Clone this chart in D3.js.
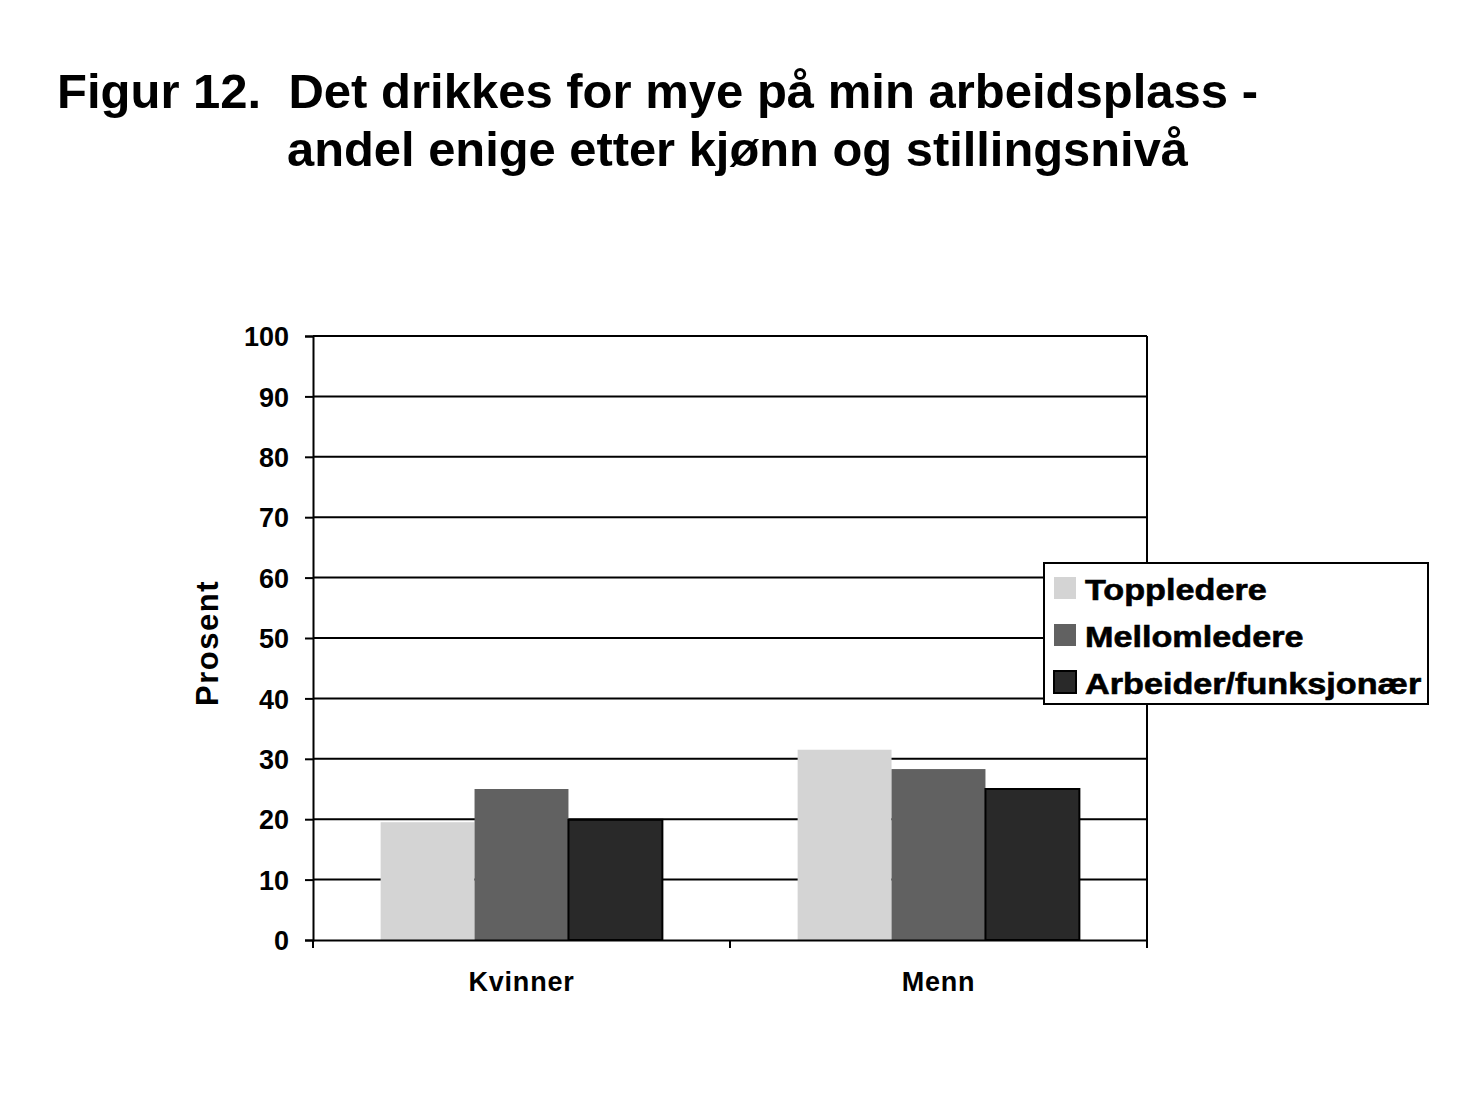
<!DOCTYPE html>
<html>
<head>
<meta charset="utf-8">
<script src="https://cdn.jsdelivr.net/npm/d3@7"></script>
<style>
    body { margin: 0; background: #fff; }
    svg { display: block; }
</style>
</head>
<body>
<svg width="1475" height="1104"></svg>
<script>
const categories = ['Kvinner', 'Menn'];
const seriesNames = ['Toppledere', 'Mellomledere', 'Arbeider/funksjonær'];
const toppledere = [19.5, 31.5];
const mellomledere = [25, 28.3];
const arbeider = [19.9, 25];
const yTicks = [0, 10, 20, 30, 40, 50, 60, 70, 80, 90, 100];
const colors = ['#d4d4d4', '#616161', '#292929'];

const values = [toppledere, mellomledere, arbeider];
const rows = categories.map((c, i) => ({
    cat: c,
    vals: seriesNames.map((s, j) => ({ key: s, value: values[j][i], idx: j }))
}));

const svg = d3.select('svg').style('font-family', 'Liberation Sans, Arial, sans-serif');

svg.append('rect').attr('width', 1475).attr('height', 1104).attr('fill', '#fff');

// title
svg.append('text')
    .attr('x', 57).attr('y', 108)
    .attr('xml:space', 'preserve')
    .style('white-space', 'pre')
    .attr('font-size', 48).attr('font-weight', 'bold')
    .attr('textLength', 1201).attr('lengthAdjust', 'spacingAndGlyphs')
    .text('Figur 12.  Det drikkes for mye på min arbeidsplass -');
svg.append('text')
    .attr('x', 287).attr('y', 166)
    .attr('font-size', 48).attr('font-weight', 'bold')
    .attr('textLength', 901).attr('lengthAdjust', 'spacingAndGlyphs')
    .text('andel enige etter kjønn og stillingsnivå');

const plotLeft = 313, plotRight = 1147, plotTop = 336, plotBottom = 940;

const x = d3.scaleBand().domain(categories).range([plotLeft, plotRight]);
const xInner = d3.scaleBand().domain(seriesNames).range([0, x.bandwidth()]).paddingOuter(0.72).paddingInner(0);
const y = d3.scaleLinear().domain([0, 100]).range([plotBottom, plotTop]);

// gridlines
svg.append('g')
    .selectAll('line')
    .data(yTicks.filter(d => d > 0))
    .enter()
    .append('line')
    .attr('x1', plotLeft).attr('x2', plotRight)
    .attr('y1', d => y(d)).attr('y2', d => y(d))
    .attr('stroke', '#000').attr('stroke-width', 2);

// right border
svg.append('line')
    .attr('x1', plotRight).attr('x2', plotRight)
    .attr('y1', plotTop).attr('y2', plotBottom)
    .attr('stroke', '#000').attr('stroke-width', 2);

// bars
const group = svg.append('g')
    .selectAll('g')
    .data(rows)
    .enter()
    .append('g')
    .attr('transform', d => `translate(${x(d.cat)},0)`);

group.selectAll('rect')
    .data(d => d.vals)
    .enter()
    .append('rect')
    .attr('x', d => xInner(d.key))
    .attr('width', xInner.bandwidth())
    .attr('y', d => y(d.value))
    .attr('height', d => plotBottom - y(d.value))
    .attr('fill', d => colors[d.idx])
    .attr('stroke', d => d.idx === 2 ? '#000' : 'none')
    .attr('stroke-width', 2);

// y axis
const yAxis = svg.append('g')
    .attr('transform', `translate(${plotLeft},0)`)
    .call(d3.axisLeft(y).tickValues(yTicks).tickSize(8).tickPadding(16));
yAxis.select('.domain').attr('stroke', '#000').attr('stroke-width', 2);
yAxis.selectAll('.tick line').attr('stroke', '#000').attr('stroke-width', 2);
yAxis.selectAll('.tick text')
    .attr('font-size', 27).attr('font-weight', 'bold')
    .attr('font-family', 'Liberation Sans, Arial, sans-serif')
    .attr('fill', '#000').attr('dy', '0.36em');

// x axis
const xAxis = svg.append('g')
    .attr('transform', `translate(0,${plotBottom})`)
    .call(d3.axisBottom(x).tickSize(0).tickPadding(32));
xAxis.select('.domain').attr('stroke', '#000').attr('stroke-width', 2);
xAxis.selectAll('.tick text')
    .attr('font-size', 27).attr('font-weight', 'bold')
    .attr('letter-spacing', 0.8)
    .attr('font-family', 'Liberation Sans, Arial, sans-serif')
    .attr('fill', '#000');
// category separators
svg.append('g')
    .selectAll('line')
    .data([plotLeft, x('Menn'), plotRight])
    .enter()
    .append('line')
    .attr('x1', d => d).attr('x2', d => d)
    .attr('y1', plotBottom).attr('y2', plotBottom + 8)
    .attr('stroke', '#000').attr('stroke-width', 2);

// y label
svg.append('text')
    .attr('transform', 'translate(218,643) rotate(-90)')
    .attr('text-anchor', 'middle')
    .attr('font-size', 31).attr('font-weight', 'bold')
    .attr('letter-spacing', 1.5)
    .text('Prosent');

// legend
const legend = svg.append('g').attr('transform', 'translate(1044,563)');
legend.append('rect')
    .attr('width', 384).attr('height', 141)
    .attr('fill', '#fff').attr('stroke', '#000').attr('stroke-width', 2);
const item = legend.selectAll('g.item')
    .data(seriesNames)
    .enter()
    .append('g')
    .attr('class', 'item')
    .attr('transform', (d, i) => `translate(0,${26 + i * 47})`);
item.append('rect')
    .attr('x', 10).attr('y', -12)
    .attr('width', 22).attr('height', 22)
    .attr('fill', (d, i) => colors[i])
    .attr('stroke', (d, i) => i === 2 ? '#000' : 'none')
    .attr('stroke-width', 2);
item.append('text')
    .attr('transform', 'translate(41,11) scale(1.14,1)')
    .attr('font-size', 30).attr('font-weight', 'bold')
    .attr('stroke', '#000').attr('stroke-width', 0.6)
    .text(d => d);
</script>
</body>
</html>
